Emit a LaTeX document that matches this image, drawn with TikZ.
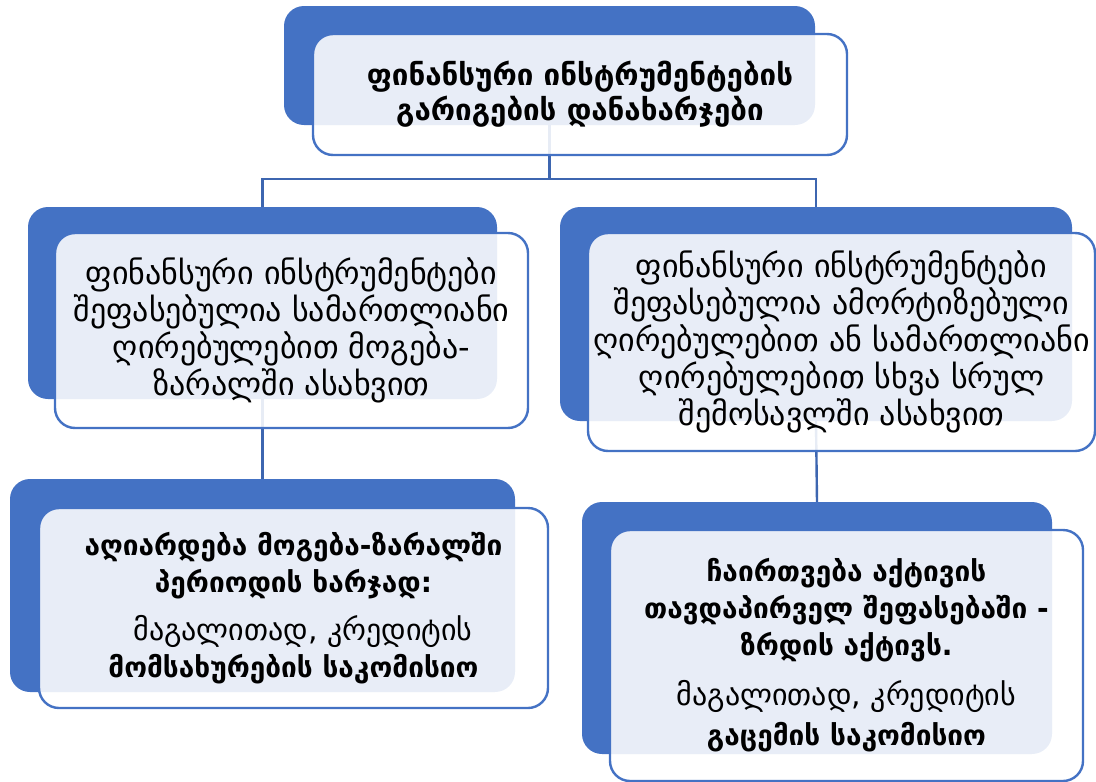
\documentclass[tikz,border=0pt]{standalone}
\usepackage{fontspec}
\newfontfamily\geo{DejaVu Sans}
\definecolor{accent}{HTML}{4472C4}
\definecolor{linkc}{HTML}{3D66B0}
\newcommand{\regf}{\mdseries\fontsize{30}{37}\selectfont}
\newcommand{\boldf}{\bfseries\fontsize{28}{37}\selectfont}
\tikzset{
  backbox/.style={draw=none, fill=accent, rounded corners=20pt, inner sep=0pt},
  frontbox/.style={draw=accent, line width=2.4pt, fill=white, fill opacity=0.88, text opacity=1, rounded corners=20pt, inner sep=0pt},
  txt/.style={align=center, text=black, font=\geo\fontsize{32}{37}\selectfont, inner sep=0pt},
  link/.style={draw=linkc, line width=2.4pt}
}
\begin{document}
\begin{tikzpicture}[x=1pt,y=-1pt]
\useasboundingbox (0,0) rectangle (1096,782);
% back boxes
\node[backbox, minimum width=531, minimum height=119] (tb) at (549.5,65.5) {};
\node[backbox, minimum width=469, minimum height=192] (lb) at (262.5,303) {};
\node[backbox, minimum width=512, minimum height=214] (rb) at (816,314) {};
\node[backbox, minimum width=505, minimum height=213] (blb) at (262.5,585.5) {};
\node[backbox, minimum width=470, minimum height=252] (brb) at (817,628) {};
% connectors
\coordinate (bus) at (549.5,179);
\draw[link] (tb.south) -- (tb.south |- bus);
\draw[link] (lb.north) -- (lb.north |- bus) -- (rb.north |- bus) -- (rb.north);
\draw[link] (lb.south) -- (blb.north);
\draw[link] (rb.south) -- (brb.north);
% front boxes
\node[frontbox, minimum width=534, minimum height=121] (tf) at (580,94.5) {};
\node[frontbox, minimum width=473, minimum height=195] (lf) at (291.5,330.5) {};
\node[frontbox, minimum width=507, minimum height=218] (rf) at (841.5,342) {};
\node[frontbox, minimum width=509, minimum height=200] (blf) at (293.5,608) {};
\node[frontbox, minimum width=473, minimum height=251] (brf) at (846.5,655.5) {};
% texts
\node[txt, font=\geo\bfseries\fontsize{29.5}{35}\selectfont] (tt) at (tf) {ფინანსური ინსტრუმენტების\\გარიგების დანახარჯები};
\node[txt] (lt) at (lf) {ფინანსური ინსტრუმენტები\\შეფასებულია სამართლიანი\\ღირებულებით მოგება-\\ზარალში ასახვით};
\node[txt] (rt) at (rf) {ფინანსური ინსტრუმენტები\\შეფასებულია ამორტიზებული\\ღირებულებით ან სამართლიანი\\ღირებულებით სხვა სრულ\\შემოსავლში ასახვით};
\node[txt] (blt) at (blf) {\boldf აღიარდება მოგება-ზარალში\\\boldf პერიოდის ხარჯად:\\[11pt]\regf\ \ მაგალითად, კრედიტის\\\boldf მომსახურების საკომისიო};
\node[txt] (brt) at (brf) {\boldf ჩაირთვება აქტივის\\\boldf თავდაპირველ შეფასებაში -\\\boldf ზრდის აქტივს.\\[13pt]\regf მაგალითად, კრედიტის\\[3pt]\boldf გაცემის საკომისიო};
\end{tikzpicture}
\end{document}
